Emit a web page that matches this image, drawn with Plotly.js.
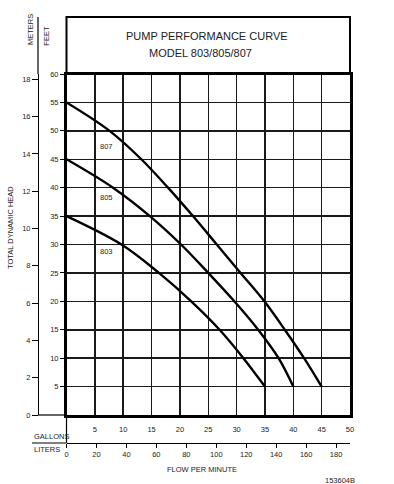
<!DOCTYPE html>
<html><head><meta charset="utf-8">
<script src="https://cdn.plot.ly/plotly-3.0.1.min.js"></script>
<style>html,body{margin:0;padding:0;background:#fff}#chart{width:394px;height:484px}</style>
</head><body><div id="chart"></div>
<script>
// ---- data (gallons per minute vs total dynamic head in feet) ----
const models = ['803', '805', '807'];
const flow803 = [0, 9.7, 16.3, 22.0, 27.0, 31.2, 35];
const head803 = [35, 30, 25, 20, 15, 10, 5];
const flow805 = [0, 8.2, 14.7, 20.2, 25.0, 29.6, 33.8, 37.4, 40];
const head805 = [45, 40, 35, 30, 25, 20, 15, 10, 5];
const flow807 = [0, 7.6, 13.2, 17.9, 22.3, 26.5, 30.7, 34.9, 38.5, 41.9, 45];
const head807 = [55, 50, 45, 40, 35, 30, 25, 20, 15, 10, 5];
const gallonTicks = [5, 10, 15, 20, 25, 30, 35, 40, 45, 50];
const literTicks = [0, 20, 40, 60, 80, 100, 120, 140, 160, 180];
const feetTicks = [5, 10, 15, 20, 25, 30, 35, 40, 45, 50, 55, 60];
const meterTicks = [0, 2, 4, 6, 8, 10, 12, 14, 16, 18];
const LITERS_PER_GALLON = 3.78541;
const FEET_PER_METER = 3.28084;

// ---- layout helpers ----
const W = 394, H = 484;
const M = {l: 38, r: 44, t: 17, b: 41};
const PW = W - M.l - M.r, PH = H - M.t - M.b;
const px = v => (v - M.l) / PW;
const py = v => (H - M.b - v) / PH;
const plotL = px(66.5), plotB = py(415), plotT = py(74);

const FONT = 'Liberation Sans, Arial, sans-serif';
const TXT = '#222';
const small = {family: FONT, size: 7.5, color: TXT};

const curve = (x, y) => ({
  x: x, y: y, type: 'scatter', mode: 'lines', xaxis: 'x', yaxis: 'y',
  line: {color: '#000', width: 2.4, shape: 'spline', smoothing: 1},
  hoverinfo: 'skip', showlegend: false
});

const data = [
  curve(flow803, head803),
  curve(flow805, head805),
  curve(flow807, head807),
  {x: [], y: [], type: 'scatter', mode: 'lines', xaxis: 'x2', yaxis: 'y', showlegend: false, hoverinfo: 'skip'},
  {x: [], y: [], type: 'scatter', mode: 'lines', xaxis: 'x', yaxis: 'y2', showlegend: false, hoverinfo: 'skip'}
];

const ann = (text, x, y, extra) => Object.assign({
  text: text, x: x, y: y, xref: 'paper', yref: 'paper', showarrow: false,
  font: small, xanchor: 'center', yanchor: 'middle'
}, extra || {});

const labelX = 7.1;
const labelY = {'803': 28.8, '805': 38.3, '807': 47.3};

const layout = {
  width: W, height: H,
  margin: M,
  paper_bgcolor: '#fff', plot_bgcolor: '#fff',
  showlegend: false,
  font: {family: FONT, color: TXT, size: 7.5},
  xaxis: {
    domain: [plotL, 1], range: [0, 50], anchor: 'y',
    tickvals: gallonTicks, ticktext: gallonTicks.map(String),
    showgrid: true, gridcolor: '#1a1a1a', gridwidth: 1.5,
    showline: true, linecolor: '#000', linewidth: 2.5, mirror: true,
    ticks: 'outside', ticklen: 5, tickcolor: 'rgba(0,0,0,0)',
    tickfont: small, zeroline: false, fixedrange: true
  },
  yaxis: {
    domain: [plotB, plotT], range: [0, 60], anchor: 'x',
    tickvals: feetTicks, ticktext: feetTicks.map(String),
    showgrid: true, gridcolor: '#1a1a1a', gridwidth: 1.5,
    showline: true, linecolor: '#000', linewidth: 2.5, mirror: true,
    ticks: 'outside', ticklen: 4, tickwidth: 1, tickcolor: '#000',
    tickfont: small, zeroline: false, fixedrange: true
  },
  yaxis2: {
    overlaying: 'y', anchor: 'free', position: 0, side: 'left',
    range: [0, 60 / FEET_PER_METER],
    tickvals: meterTicks, ticktext: meterTicks.map(String),
    showgrid: false, zeroline: false,
    showline: true, linecolor: '#000', linewidth: 1.2,
    ticks: 'outside', ticklen: 6, tickwidth: 1, tickcolor: '#000',
    tickfont: small, fixedrange: true
  },
  xaxis2: {
    overlaying: 'x', anchor: 'free', position: 0, side: 'bottom',
    range: [0, 50 * LITERS_PER_GALLON],
    tickvals: literTicks, ticktext: literTicks.map(String),
    showgrid: false, zeroline: false,
    showline: true, linecolor: '#000', linewidth: 1.2,
    ticks: 'outside', ticklen: 4, tickwidth: 1, tickcolor: '#000',
    tickfont: small, fixedrange: true
  },
  shapes: [
    {type: 'rect', xref: 'paper', yref: 'paper', x0: plotL, x1: 1, y0: plotT, y1: 1,
     line: {color: '#000', width: 2}, layer: 'above'},
    {type: 'line', xref: 'paper', yref: 'paper', x0: 0, x1: 0, y0: plotT, y1: 1,
     line: {color: '#000', width: 1.2}},
    {type: 'line', xref: 'paper', yref: 'paper', x0: 0, x1: plotL, y0: plotB, y1: plotB,
     line: {color: '#000', width: 1.2}},
    {type: 'line', xref: 'paper', yref: 'paper', x0: plotL, x1: plotL, y0: 0, y1: plotB,
     line: {color: '#000', width: 1.2}},
    {type: 'line', xref: 'paper', yref: 'paper', x0: px(32), x1: plotL, y0: 0, y1: 0,
     line: {color: '#000', width: 1.2}}
  ],
  annotations: [
    ann('PUMP PERFORMANCE CURVE', px(206.7), py(36), {font: {family: FONT, size: 11, color: TXT}}),
    ann('MODEL 803/805/807', px(200), py(52.7), {font: {family: FONT, size: 11, color: TXT}}),
    ann('METERS', px(30), py(30), {textangle: -90}),
    ann('FEET', px(46.7), py(36), {textangle: -90}),
    ann('TOTAL DYNAMIC HEAD', px(10), py(228), {textangle: -90}),
    ann('GALLONS', px(31.5), py(436.7), {xanchor: 'left'}),
    ann('LITERS', px(31.5), py(449), {xanchor: 'left'}),
    ann('FLOW PER MINUTE', px(201.7), py(469)),
    ann('153604B', px(357), py(480), {xanchor: 'right'}),
    ...models.map(m => ({
      text: m, x: labelX, y: labelY[m], xref: 'x', yref: 'y', showarrow: false,
      font: small, xanchor: 'center', yanchor: 'middle'
    }))
  ]
};

Plotly.newPlot('chart', data, layout, {staticPlot: true, displayModeBar: false});
</script>
</body></html>
